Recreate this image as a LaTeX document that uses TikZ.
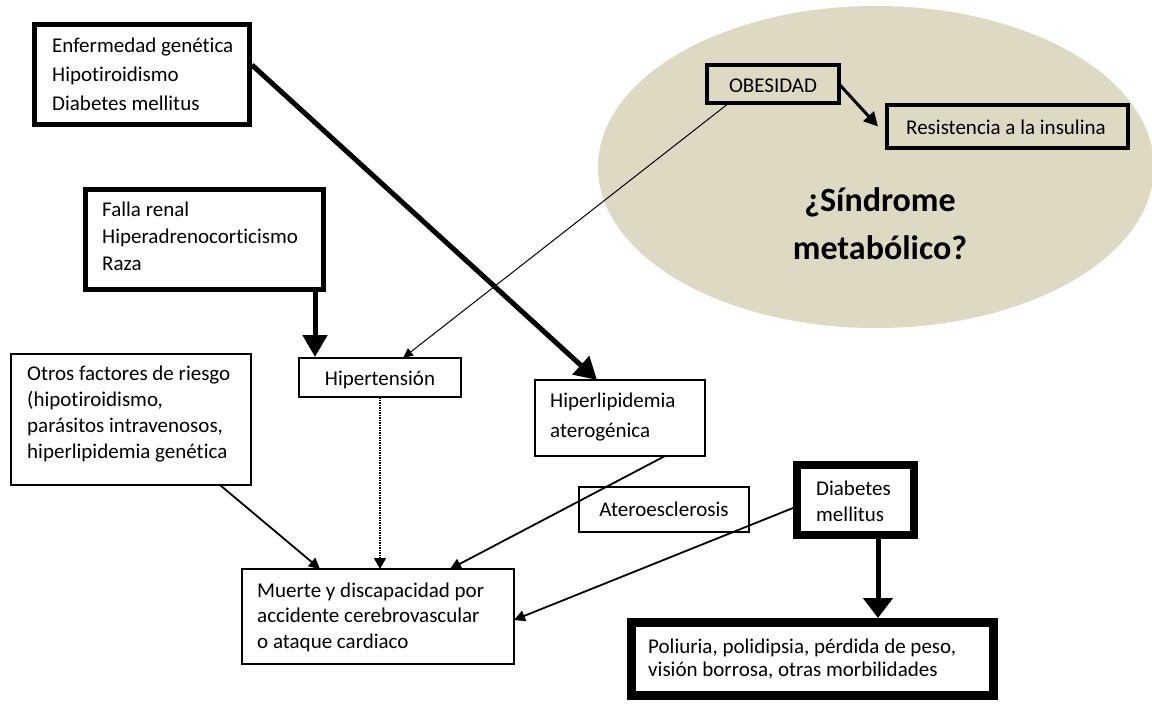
\documentclass[tikz,border=0pt]{standalone}
\usepackage{fontspec}
\setmainfont{Carlito}[Ligatures=NoCommon]
\usetikzlibrary{arrows.meta,calc}
\definecolor{beige}{HTML}{DDD9C3}
\tikzset{
  boxn/.style={draw, fill=white, anchor=north west, inner sep=0pt, outer sep=0pt, line width=1.8pt},
  txt/.style={inner sep=0pt, align=left, font=\fontsize{21}{26}\selectfont},
  con/.style={line width=1.8pt, -{Triangle[length=11pt,width=11pt]}},
  bigcon/.style={line width=5pt, -{Triangle[length=22pt,width=24pt]}},
}
\begin{document}
\begin{tikzpicture}[x=1pt,y=-1pt]
\useasboundingbox (0,0) rectangle (1152,704);
% ellipse
\fill[beige] (876,167) ellipse [x radius=278, y radius=161];
% boxes
\node[boxn, line width=5pt, minimum width=215pt, minimum height=100pt] (b1) at (34.5,24.5) {};
\node[boxn, line width=5pt, minimum width=238pt, minimum height=100pt] (falla) at (85.5,189.5) {};
\node[boxn, minimum width=240pt, minimum height=131pt] (otros) at (11,354) {};
\node[boxn, minimum width=162pt, minimum height=39pt] (hipert) at (299,358) {};
\node[boxn, minimum width=170pt, minimum height=76pt] (hiperlip) at (535,380) {};
\node[boxn, minimum width=170pt, minimum height=45pt] (ateros) at (579,487) {};
\node[boxn, minimum width=272pt, minimum height=95pt] (muerte) at (242,569) {};
\node[boxn, line width=8pt, minimum width=117pt, minimum height=70pt] (diab) at (797,465) {};
\node[boxn, line width=9pt, minimum width=362pt, minimum height=73pt] (poli) at (631.5,622.5) {};
\node[boxn, fill=none, line width=4pt, minimum width=132pt, minimum height=38pt] (obes) at (707,65) {};
\node[boxn, fill=none, line width=4pt, minimum width=241pt, minimum height=43pt] (resist) at (887,105) {};
% texts
\node[txt, anchor=west, font=\fontsize{21}{29}\selectfont] (b1t) at (52,74) {Enfermedad genética\\Hipotiroidismo\\Diabetes mellitus};
\node[txt, anchor=west, font=\fontsize{21}{27}\selectfont] (fallat) at (102,236) {Falla renal\\Hiperadrenocorticismo\\Raza};
\node[txt, anchor=west, font=\fontsize{21}{25.7}\selectfont] (otrost) at (27,414) {Otros factores de riesgo\\(hipotiroidismo,\\parásitos intravenosos,\\hiperlipidemia genética};
\node[txt] (hipertt) at (380,380) {Hipertensión};
\node[txt, anchor=west, font=\fontsize{21}{30}\selectfont] (hiperlipt) at (550,417) {Hiperlipidemia\\aterogénica};
\node[txt] (aterost) at (664,509) {Ateroesclerosis};
\node[txt, anchor=west, font=\fontsize{21}{25.5}\selectfont] (muertet) at (257,617) {Muerte y discapacidad por\\accidente cerebrovascular\\o ataque cardiaco};
\node[txt, anchor=west, font=\fontsize{21}{26}\selectfont] (diabt) at (816,501) {Diabetes\\mellitus};
\node[txt, anchor=west, font=\fontsize{21}{22.5}\selectfont] (polit) at (648,659) {Poliuria, polidipsia, pérdida de peso,\\visión borrosa, otras morbilidades};
\node[txt] (obest) at (773,86) {OBESIDAD};
\node[txt] (resistt) at (1006,127) {Resistencia a la insulina};
\node[txt, align=center, font=\fontsize{34}{48}\selectfont\bfseries] (sind) at (880,224) {¿Síndrome\\metabólico?};
% connectors
\draw[bigcon] ([yshift=9.5pt,xshift=2.5pt]b1.east) -- ([xshift=62pt]hiperlip.north west);
\coordinate (fs) at ([xshift=-8.5pt]falla.south east);
\coordinate (fe) at (fs |- hipert.north);
\draw[bigcon] (fs) -- ([yshift=1pt]fe);
\draw[line width=3pt, -{Triangle[length=14pt,width=14pt]}] (obes.east) -- ([xshift=-9pt]resist.west);
\draw[line width=1pt, -{Triangle[length=10pt,width=9pt]}] ([xshift=-44pt]obes.south) -- ([xshift=23pt]hipert.north);
\coordinate (he) at (hipert.south |- muerte.north);
\draw[line width=1.5pt, densely dotted, -{Triangle[length=11pt,width=12pt]}] (hipert.south) -- (he);
\draw[con] ([xshift=-31pt]otros.south east) -- ([xshift=78pt]muerte.north west);
\draw[con] ([xshift=-40pt]hiperlip.south east) -- ([xshift=-64pt]muerte.north east);
\draw[con] ([yshift=-8pt,xshift=-4pt]diab.west) -- ([yshift=-3.5pt]muerte.east);
\coordinate (ds) at ([xshift=22.5pt]diab.south);
\coordinate (dp) at (ds |- poli.north);
\draw[line width=5pt, -{Triangle[length=20pt,width=29pt]}] (ds) -- ([yshift=4.5pt]dp);
\end{tikzpicture}
\end{document}
